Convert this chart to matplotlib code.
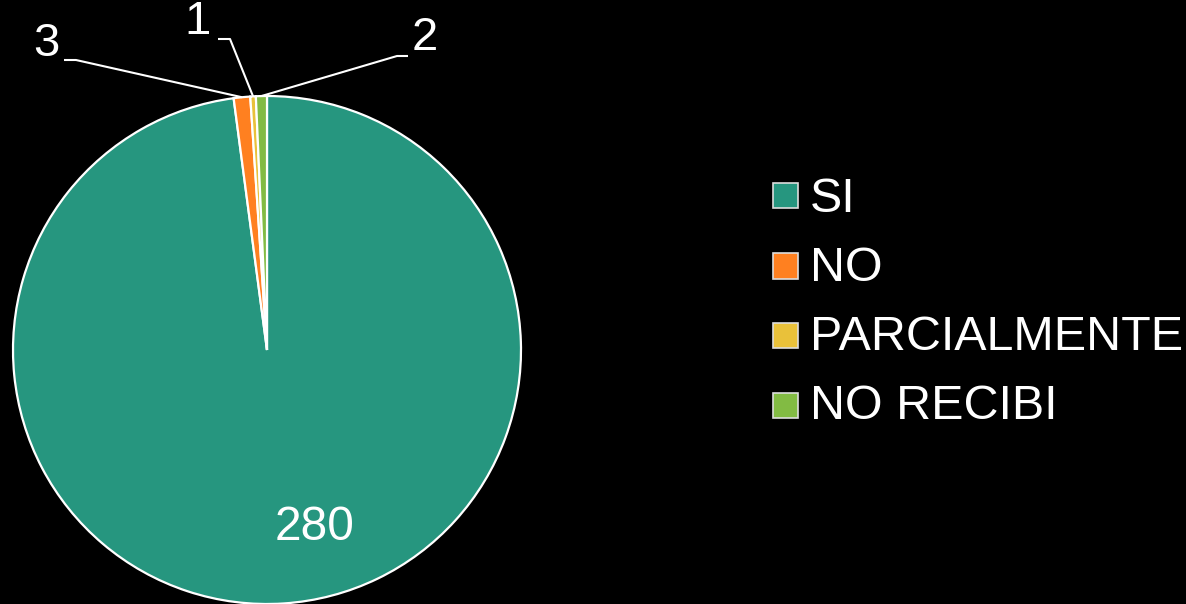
import numpy as np
import matplotlib
matplotlib.use("Agg")
import matplotlib.pyplot as plt
from matplotlib.patches import Rectangle

# Survey answers and counts
categories = ["SI", "NO", "PARCIALMENTE", "NO RECIBI"]
counts = [280, 3, 1, 2]
colors = ["#26967F", "#FF8020", "#E9C13A", "#82BB43"]

W, H = 1186, 604
fig = plt.figure(figsize=(W / 100, H / 100), dpi=100, facecolor="black")
plt.rcParams["font.family"] = ["Liberation Sans", "DejaVu Sans"]

# Pie axes: centre at (267, 350) px, radius 254 px
cx, cy, r = 267, 350, 254
ax = fig.add_axes([(cx - r) / W, (H - cy - r) / H, 2 * r / W, 2 * r / H])
ax.set_facecolor("black")
wedges, _ = ax.pie(counts, colors=colors, startangle=90, counterclock=False,
                   radius=1.0,
                   wedgeprops=dict(edgecolor="white", linewidth=1.6))
ax.set_xlim(-1, 1)
ax.set_ylim(-1, 1)
ax.set_aspect("equal")
ax.axis("off")


def px_to_data(px, py):
    return (px - cx) / r, (cy - py) / r


# Value labels
total = sum(counts)
angles = []
start = 90.0
for v in counts:
    sweep = 360.0 * v / total
    angles.append(start - sweep / 2)
    start -= sweep

label_text_px = {1: (46, 44), 2: (198, 22), 3: (425, 38)}
label_knee_px = {1: [(64, 60), (76, 60)],
                 2: [(218, 39), (230, 39)],
                 3: [(408, 56), (397, 56)]}

for i in (1, 2, 3):
    a = np.deg2rad(angles[i])
    ex, ey = np.cos(a), np.sin(a)
    pts = [px_to_data(*p) for p in label_knee_px[i]] + [(ex, ey)]
    xs, ys = zip(*pts)
    ax.plot(xs, ys, color="white", lw=1.5, clip_on=False,
            solid_capstyle="butt")
    tx, ty = px_to_data(*label_text_px[i])
    ax.text(tx, ty, str(counts[i]), color="white", fontsize=34,
            ha="center", va="center", clip_on=False)

tx, ty = px_to_data(315, 527)
ax.text(tx, ty, str(counts[0]), color="white", fontsize=34.5,
        ha="center", va="center")

# Legend
sq_left, sq_size = 773, 25
centers = [195.5, 266, 335.5, 405]
baselines = [212, 281, 350, 419]
for name, col, yc, yb in zip(categories, colors, centers, baselines):
    fig.patches.append(Rectangle(((sq_left) / W, (H - yc - sq_size / 2) / H),
                                 sq_size / W, sq_size / H,
                                 transform=fig.transFigure,
                                 facecolor=col, edgecolor="#DDDDDD",
                                 linewidth=1.2))
    fig.text(810 / W, (H - yb) / H, name, color="white", fontsize=34.8,
             ha="left", va="baseline")

fig.savefig("out.png", dpi=100, facecolor="black")
